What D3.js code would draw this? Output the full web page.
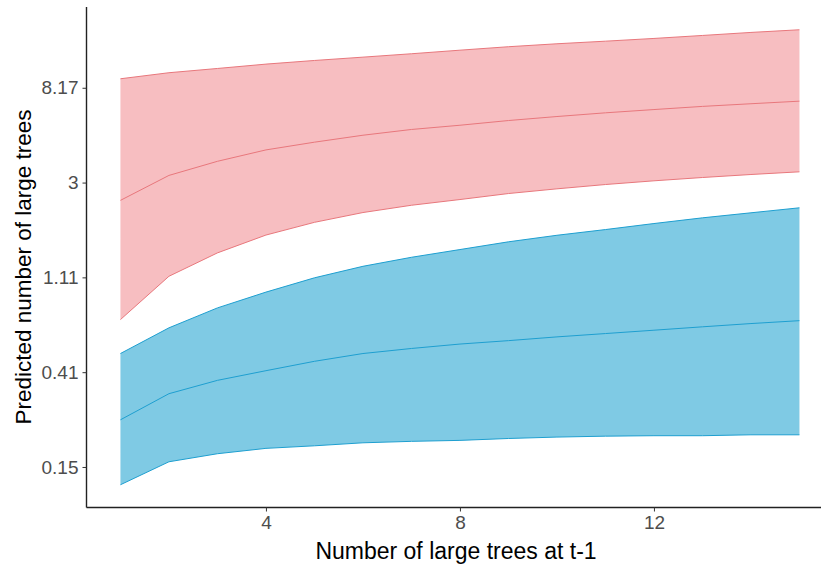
<!DOCTYPE html>
<html>
<head>
<meta charset="utf-8">
<script src="https://cdn.jsdelivr.net/npm/d3@7"></script>
<style>
  body { margin: 0; background: #fff; }
  svg { display: block; }
  text { font-family: "Liberation Sans", Arial, sans-serif; }
</style>
</head>
<body>
<svg id="chart" width="821" height="567"></svg>
<script>
// ---- data ----
const xValues = [1,2,3,4,5,6,7,8,9,10,11,12,13,14,15];

const redUpper = [8.98,9.57,10.01,10.48,10.89,11.28,11.69,12.14,12.59,12.99,13.35,13.74,14.18,14.64,15.06];
const redMid   = [2.49,3.24,3.76,4.24,4.60,4.95,5.26,5.50,5.78,6.03,6.27,6.49,6.71,6.90,7.09];
const redLower = [0.708,1.118,1.431,1.727,1.975,2.190,2.365,2.512,2.676,2.812,2.943,3.060,3.169,3.271,3.365];

const blueUpper = [0.495,0.649,0.801,0.946,1.100,1.242,1.366,1.482,1.608,1.723,1.830,1.950,2.071,2.184,2.302];
const blueMid   = [0.246,0.324,0.373,0.413,0.456,0.495,0.522,0.547,0.567,0.590,0.611,0.633,0.656,0.679,0.700];
const blueLower = [0.124,0.158,0.172,0.182,0.187,0.193,0.196,0.198,0.202,0.205,0.207,0.208,0.208,0.210,0.210];

const xTicks = [4, 8, 12];
const yTickLabels = ["0.15","0.41","1.11","3","8.17"];
const yTickValues = [Math.exp(-1.9), Math.exp(-0.9), Math.exp(0.1), Math.exp(1.1), Math.exp(2.1)];

const xTitle = "Number of large trees at t-1";
const yTitle = "Predicted number of large trees";

// ---- layout ----
const svg = d3.select("#chart");
const padLeft = 86.5, padBottom = 507.5, padTop = 7;

// data range with 5% expansion (ggplot style)
const xMin = 1, xMax = 15;
const xPad = (xMax - xMin) * 0.05;
const x = d3.scaleLinear().domain([xMin - xPad, xMax + xPad])
  .range([padLeft, padLeft + (xMax - xMin + 2 * xPad) * 48.5]);

const allY = [].concat(redUpper, redLower, blueUpper, blueLower);
const lmin = Math.log(d3.min(allY)), lmax = Math.log(d3.max(allY));
const lpad = (lmax - lmin) * 0.05;
const y = d3.scaleLog().domain([Math.exp(lmin - lpad), Math.exp(lmax + lpad)]).range([padBottom, padTop]);

const series = [
  {upper: redUpper, mid: redMid, lower: redLower, fill: "#F07E84", line: "#E8777C"},
  {upper: blueUpper, mid: blueMid, lower: blueLower, fill: "#0095C9", line: "#1E9FD0"}
];

const area = d3.area()
  .x(d => x(d.x)).y0(d => y(d.lo)).y1(d => y(d.hi));
const line = d3.line().x(d => x(d.x)).y(d => y(d.v));

series.forEach(s => {
  const pts = xValues.map((xv, i) => ({x: xv, lo: s.lower[i], hi: s.upper[i]}));
  svg.append("path").attr("d", area(pts))
    .attr("fill", s.fill).attr("fill-opacity", 0.5).attr("stroke", "none");
  [s.upper, s.mid, s.lower].forEach(arr => {
    svg.append("path")
      .attr("d", line(xValues.map((xv, i) => ({x: xv, v: arr[i]}))))
      .attr("fill", "none").attr("stroke", s.line).attr("stroke-width", 1);
  });
});

// ---- axes ----
const xAxis = svg.append("g").attr("transform", `translate(0,${padBottom})`)
  .call(d3.axisBottom(x).tickValues(xTicks).tickSize(4).tickPadding(4));
xAxis.select(".domain").attr("d", `M${padLeft},0H821`).attr("stroke", "#222").attr("stroke-width", 1.4);
xAxis.selectAll(".tick line").attr("stroke", "#333");
xAxis.selectAll(".tick text").attr("fill", "#4d4d4d").attr("font-size", 19);

const yAxis = svg.append("g").attr("transform", `translate(${padLeft},0)`)
  .call(d3.axisLeft(y).tickValues(yTickValues).tickFormat((d, i) => yTickLabels[i]).tickSize(4).tickPadding(4));
yAxis.select(".domain").attr("d", `M0,${padTop}V${padBottom}`).attr("stroke", "#222").attr("stroke-width", 1.4);
yAxis.selectAll(".tick line").attr("stroke", "#333");
yAxis.selectAll(".tick text").attr("fill", "#4d4d4d").attr("font-size", 19);

// ---- titles ----
svg.append("text").attr("x", 456).attr("y", 559).attr("text-anchor", "middle")
  .attr("font-size", 23).attr("fill", "#000").text(xTitle);
svg.append("text").attr("transform", "translate(31,267) rotate(-90)").attr("text-anchor", "middle")
  .attr("font-size", 22.5).attr("fill", "#000").text(yTitle);
</script>
</body>
</html>
